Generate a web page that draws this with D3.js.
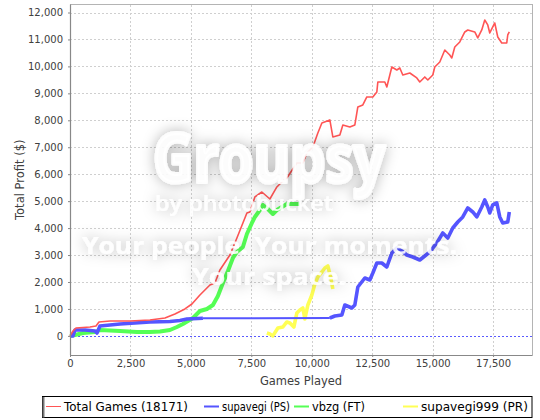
<!DOCTYPE html>
<html><head><meta charset="utf-8">
<script src="https://cdn.jsdelivr.net/npm/d3@7"></script>
<style>body{margin:0;background:#fff}svg{display:block}</style>
</head><body><svg id="c" width="540" height="420"></svg>
<script>
// ---- data ----
const seriesNames = ["Total Games (18171)", "supavegi (PS)", "vbzg (FT)", "supavegi999 (PR)"];
const seriesColors = ["#ff5555", "#5555ff", "#55ff55", "#ffff55"];
const xTicks = [0, 2500, 5000, 7500, 10000, 12500, 15000, 17500];
const yTicks = [0, 1000, 2000, 3000, 4000, 5000, 6000, 7000, 8000, 9000, 10000, 11000, 12000];

const totalGames = [0,124,248,827,1075,1199,1654,2480,3307,3927,4341,4754,5043,5374,5788,5995,6201,6614,6904,7152,7317,7441,7648,7937,8268,8557,8805,8970,9384,9632,9797,10046,10252,10418,10748,10872,11162,11286,11575,11782,11906,12113,12278,12526,12692,12733,13022,13105,13229,13312,13518,13642,13766,14056,14345,14469,14676,14800,15006,15089,15296,15503,15709,15792,15916,16123,16330,16454,16743,16867,17032,17156,17280,17363,17570,17694,17859,18066,18107,18171];
const totalProfit = [0,182,293,330,367,515,553,553,590,664,813,999,1184,1518,1889,1963,2446,3002,3633,4190,4561,4598,5155,5340,5080,5526,5748,5860,6416,6416,6788,7010,7530,7901,8013,7382,7456,7827,7753,7827,8495,8569,8866,8866,9051,9422,9422,9236,9682,9979,9868,9942,9682,9756,9571,9422,9608,9497,9682,9979,10165,10610,10425,10314,10722,10907,11278,11352,11278,11055,11352,11723,11538,11241,11612,11092,10870,10870,11166,11278];

const psGames = [0,124,207,620,1034,1116,1240,2067,3307,4134,4547,4837,5498,10748,10955,11244,11368,11658,11782,11906,12195,12402,12526,12692,12898,13105,13312,13518,13725,13932,14180,14469,14676,14883,15172,15420,15627,15833,16040,16247,16454,16660,16826,17032,17156,17280,17363,17487,17653,17777,17900,18107,18171];
const psProfit = [0,0,219,219,182,108,367,442,516,534,572,627,653,664,739,776,1147,1036,1147,1815,2149,2075,2334,2705,2705,2557,3076,3262,3151,3002,2928,2817,2965,3114,3448,3819,3633,4004,4227,4413,4747,4598,4413,4784,5043,4784,4561,4858,4932,4413,4190,4227,4598];

const ftGames = [0,207,537,1034,1240,2067,2770,3307,3721,4134,4423,4671,5085,5374,5664,5912,6118,6325,6532,6738,6904,7152,7317,7524,7648,7855,7979,8185,8392,8557,8764,8970,9508];
const ftProfit = [0,33,108,145,219,182,145,145,163,219,330,442,664,924,999,1147,1481,1963,2409,2891,3114,3299,3782,4190,4413,4672,4858,4710,4524,4672,4784,4895,4895];

const prGames = [8144,8268,8392,8599,8805,8970,9095,9260,9384,9508,9632,9715,9839,10004,10128,10252,10418,10542,10666,10789,10872];
const prProfit = [108,71,0,293,330,516,479,330,850,961,1035,627,1147,1518,1926,2186,2371,2520,2594,2149,1741];

const watermarkLines = ["Groupsy", "by photobucket", "Your people. Your moments.", "Your space."];

// ---- chart ----
const svg = d3.select("#c");
const L = 70, R = 532, T = 4.5, B = 355;
const x = d3.scaleLinear().domain([0, 19110]).range([L, R]);
const y = d3.scaleLinear().domain([-709, 12297]).range([B, T]);
const FONT = "DejaVu Sans, Verdana, sans-serif";

svg.append("rect").attr("width", 540).attr("height", 420).attr("fill", "#fff");
svg.append("rect").attr("x", L).attr("y", T).attr("width", R - L).attr("height", B - T).attr("fill", "#fff");

// gridlines
const grid = svg.append("g").attr("stroke", "#cfcfcf").attr("stroke-width", 1).attr("stroke-dasharray", "2,2").attr("shape-rendering", "crispEdges");
grid.selectAll(".gx").data(xTicks.filter(d => d > 0)).join("line")
  .attr("x1", d => Math.round(x(d)) + 0.5).attr("x2", d => Math.round(x(d)) + 0.5).attr("y1", T).attr("y2", B);
grid.selectAll(".gy").data(yTicks).join("line")
  .attr("y1", d => Math.round(y(d)) + 0.5).attr("y2", d => Math.round(y(d)) + 0.5).attr("x1", L).attr("x2", R);

// zero baseline
svg.append("line").attr("x1", L).attr("x2", R).attr("y1", Math.round(y(0)) + 0.5).attr("y2", Math.round(y(0)) + 0.5)
  .attr("stroke", "#5a5aff").attr("stroke-dasharray", "2,2").attr("stroke-width", 1).attr("shape-rendering", "crispEdges");

// plot outline
svg.append("rect").attr("x", L + 0.5).attr("y", T).attr("width", R - L - 0.5).attr("height", B - T)
  .attr("fill", "none").attr("stroke", "#b4b4b4").attr("stroke-width", 1).attr("shape-rendering", "crispEdges");

// series
const series = [
  {g: totalGames, p: totalProfit, w: 1.6},
  {g: psGames, p: psProfit, w: 3.6},
  {g: ftGames, p: ftProfit, w: 4},
  {g: prGames, p: prProfit, w: 3.6}
];
const line = d3.line().x(d => x(d[0])).y(d => y(d[1]));
const sg = svg.append("g");
[3, 2, 1, 0].forEach(i => {
  const s = series[i];
  const pts = s.g.map((g, k) => [g, s.p[k]]);
  let run = [pts[0]];
  const runs = [], gaps = [];
  for (let k = 1; k < pts.length; k++) {
    const dx = x(pts[k][0]) - x(pts[k - 1][0]);
    if (dx > 40) { runs.push(run); gaps.push([pts[k - 1], pts[k]]); run = [pts[k]]; }
    else run.push(pts[k]);
  }
  runs.push(run);
  gaps.forEach(gp => sg.append("path").attr("d", line(gp)).attr("fill", "none")
    .attr("stroke", seriesColors[i]).attr("stroke-width", Math.min(2, s.w)));
  runs.forEach(r => { if (r.length > 1) sg.append("path").attr("d", line(r)).attr("fill", "none")
    .attr("stroke", seriesColors[i]).attr("stroke-width", s.w).attr("stroke-linejoin", "round"); });
});

// axes
const ax = svg.append("g").attr("transform", `translate(0,${B})`)
  .call(d3.axisBottom(x).tickValues(xTicks).tickFormat(d3.format(",")).tickSize(2).tickPadding(3));
const ay = svg.append("g").attr("transform", `translate(${L},0)`)
  .call(d3.axisLeft(y).tickValues(yTicks).tickFormat(d3.format(",")).tickSize(2).tickPadding(5));
[ax, ay].forEach(a => {
  a.selectAll("path").attr("stroke", "#888").attr("stroke-width", 1);
  a.selectAll("line").attr("stroke", "#888");
  a.selectAll("text").attr("font-family", FONT).attr("font-size", 10).attr("fill", "#404040");
});
ay.select("path.domain").remove();
ay.append("line").attr("x1", 0.5).attr("x2", 0.5).attr("y1", T).attr("y2", B).attr("stroke", "#888").attr("stroke-width", 1.2);
ax.select("path.domain").remove();
ax.append("line").attr("x1", L).attr("x2", R).attr("y1", 0.5).attr("y2", 0.5).attr("stroke", "#888").attr("stroke-width", 1.2);

svg.append("text").attr("x", 301).attr("y", 385).attr("text-anchor", "middle")
  .attr("font-family", FONT).attr("font-size", 11.5).attr("fill", "#404040").text("Games Played");
svg.append("text").attr("transform", `translate(24,${(T + B) / 2}) rotate(-90)`).attr("text-anchor", "middle")
  .attr("font-family", FONT).attr("font-size", 11.5).attr("fill", "#404040").text("Total Profit ($)");

// legend
const lg = svg.append("g");
const legendStarts = [46, 204, 294, 403];
const legendTextW = [124, 68, 53, 107];
seriesNames.forEach((n, i) => {
  const cx = legendStarts[i];
  lg.append("line").attr("x1", cx).attr("x2", cx + 15).attr("y1", 406.5).attr("y2", 406.5)
    .attr("stroke", seriesColors[i]).attr("stroke-width", i === 0 ? 1 : 2);
  lg.append("text").attr("x", cx + 18).attr("y", 410.5).attr("font-family", FONT).attr("font-size", 11.5)
    .attr("textLength", legendTextW[i]).attr("lengthAdjust", "spacingAndGlyphs")
    .attr("fill", "#000").text(n);
});
lg.insert("rect", ":first-child").attr("x", 42.5).attr("y", 396.5).attr("width", 532 - 42.5).attr("height", 21)
  .attr("fill", "#fff").attr("stroke", "#000").attr("stroke-width", 1);
lg.append("line").attr("x1", 43.5).attr("x2", 43.5).attr("y1", 397).attr("y2", 417.5).attr("stroke", "#777").attr("stroke-width", 2);

// watermark
const defs = svg.append("defs");
const f = defs.append("filter").attr("id", "wm").attr("x", "-20%").attr("y", "-60%").attr("width", "140%").attr("height", "220%");
f.append("feGaussianBlur").attr("in", "SourceAlpha").attr("stdDeviation", 7).attr("result", "b");
f.append("feFlood").attr("flood-color", "#000").attr("flood-opacity", 0.32).attr("result", "c");
f.append("feComposite").attr("in", "c").attr("in2", "b").attr("operator", "in").attr("result", "s");
const fm = f.append("feMerge"); fm.append("feMergeNode").attr("in", "s"); fm.append("feMergeNode").attr("in", "SourceGraphic");
const wm = svg.append("g").attr("filter", "url(#wm)").attr("fill", "#fff").attr("fill-opacity", 0.88)
  .attr("font-family", "Open Sans, Lato, sans-serif").attr("font-weight", "bold");
wm.append("text").attr("x", 153).attr("y", 182).attr("font-size", 66).attr("stroke", "#fff").attr("stroke-opacity", 0.88)
  .attr("stroke-width", 4).attr("stroke-linejoin", "round")
  .attr("textLength", 232).attr("lengthAdjust", "spacingAndGlyphs").text(watermarkLines[0]);
wm.append("text").attr("x", 155).attr("y", 211).attr("font-size", 21).attr("font-weight", 600).attr("textLength", 178).attr("lengthAdjust", "spacingAndGlyphs").text(watermarkLines[1]);
wm.append("text").attr("x", 82).attr("y", 254).attr("font-size", 23).attr("textLength", 375).attr("lengthAdjust", "spacingAndGlyphs").text(watermarkLines[2]);
wm.append("text").attr("x", 192).attr("y", 285).attr("font-size", 23).attr("textLength", 154).attr("lengthAdjust", "spacingAndGlyphs").text(watermarkLines[3]);
</script></body></html>
